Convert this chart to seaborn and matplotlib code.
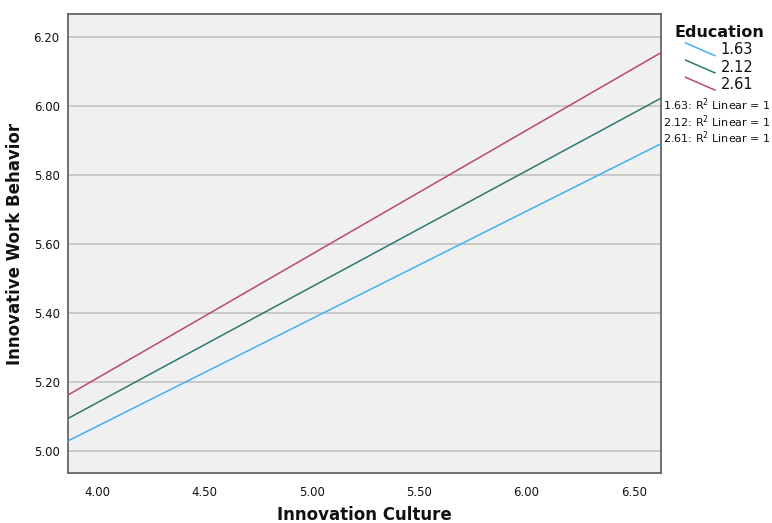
import numpy as np
import pandas as pd
import matplotlib
matplotlib.use("Agg")
import matplotlib.pyplot as plt
from matplotlib.legend_handler import HandlerLine2D
from matplotlib.lines import Line2D
from matplotlib.ticker import FormatStrFormatter
import seaborn as sns

# ---- data ----
culture = [3.864, 6.626]
edu_levels = ["1.63", "2.12", "2.61"]
iwb_163 = [5.029, 5.890]
iwb_212 = [5.094, 6.022]
iwb_261 = [5.162, 6.154]
colors = ["#48AEEF", "#2C7A6E", "#B9477A"]
x_ticks = [4.00, 4.50, 5.00, 5.50, 6.00, 6.50]
y_ticks = [5.00, 5.20, 5.40, 5.60, 5.80, 6.00, 6.20]

df = pd.DataFrame({
    "Innovation Culture": culture * 3,
    "Innovative Work Behavior": iwb_163 + iwb_212 + iwb_261,
    "Education": [edu_levels[0]] * 2 + [edu_levels[1]] * 2 + [edu_levels[2]] * 2,
})

sns.set_theme(style="white")
plt.rcParams["font.family"] = ["DejaVu Sans"]

fig = plt.figure(figsize=(7.72, 5.23), dpi=100)
ax = fig.add_axes([68 / 772, 1 - 473 / 523, (661 - 68) / 772, (473 - 14) / 523])
ax.set_facecolor("#F0F0F0")

sns.lineplot(data=df, x="Innovation Culture", y="Innovative Work Behavior",
             hue="Education", palette=dict(zip(edu_levels, colors)),
             linewidth=1.1, ax=ax, legend=False, zorder=3)

ax.set_xlim(culture[0], culture[1])
ax.set_ylim(4.936, 6.266)
ax.set_xticks(x_ticks)
ax.set_yticks(y_ticks)
ax.xaxis.set_major_formatter(FormatStrFormatter("%.2f"))
ax.yaxis.set_major_formatter(FormatStrFormatter("%.2f"))
ax.yaxis.grid(True, color="#C8C8C8", linewidth=1.4, zorder=1)
ax.xaxis.grid(False)
ax.set_axisbelow(True)
ax.tick_params(axis="both", labelsize=8.5, labelcolor="#111111", length=0)
ax.tick_params(axis="x", pad=9)
ax.tick_params(axis="y", pad=6)
for s in ax.spines.values():
    s.set_color("#666666")
    s.set_linewidth(1.3)

ax.set_xlabel("Innovation Culture", fontsize=12, fontweight="bold", color="#111111")
ax.set_ylabel("Innovative Work Behavior", fontsize=12, fontweight="bold", color="#111111")
ax.xaxis.set_label_coords(0.5, (473 - 515) / 459)
ax.xaxis.label.set_verticalalignment("center")
ax.yaxis.set_label_coords((15 - 68) / 593, 0.5)
ax.yaxis.label.set_verticalalignment("center")


class DiagHandler(HandlerLine2D):
    def create_artists(self, legend, orig_handle, xdescent, ydescent, width, height,
                       fontsize, trans):
        line = Line2D([-xdescent + 8, width - xdescent - 1],
                      [height - ydescent + 1, -ydescent - 1])
        self.update_prop(line, orig_handle, legend)
        line.set_transform(trans)
        return [line]


handles = [Line2D([], [], color=c, linewidth=1.1) for c in colors]
leg = fig.legend(handles, edu_levels, title="Education", loc="upper left",
                 bbox_to_anchor=(664 / 772, 1 - 15 / 523), frameon=False,
                 fontsize=10.5, title_fontsize=11.5, handlelength=2.9,
                 handletextpad=0.3, labelspacing=0.15, borderpad=0.2,
                 handler_map={Line2D: DiagHandler()})
leg.get_title().set_fontweight("bold")
leg.get_title().set_color("#111111")
for t in leg.get_texts():
    t.set_color("#111111")
leg._legend_box.align = "left"

for i, lvl in enumerate(edu_levels):
    fig.text(663 / 772, 1 - (105 + i * 16.5) / 523, f"{lvl}: R$^2$ Linear = 1",
             fontsize=8, va="center", ha="left", color="#111111")

fig.savefig("out.png", dpi=100, facecolor="white")
